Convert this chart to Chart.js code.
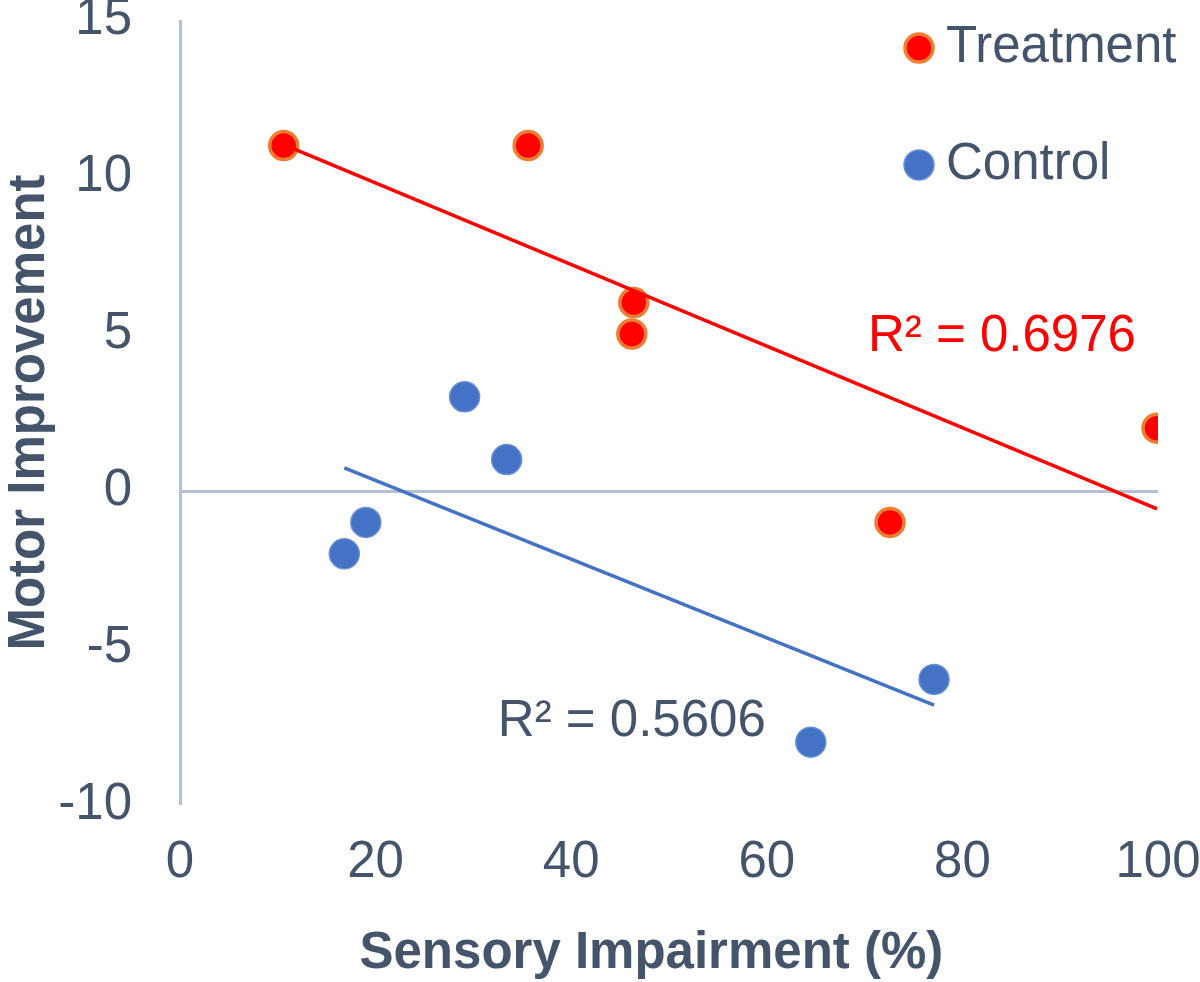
<!DOCTYPE html>
<html>
<head>
<meta charset="utf-8">
<script src="https://cdn.jsdelivr.net/npm/chart.js@4.4.1/dist/chart.umd.min.js"></script>
<style>
  html, body { margin: 0; padding: 0; background: #fff; }
  #wrap { width: 1200px; height: 982px; }
</style>
</head>
<body>
<div id="wrap"><canvas id="chartView" width="1200" height="982"></canvas></div>
<script>
// values
var treatmentX = [10.6, 35.6, 46.4, 46.2, 72.6, 99.9];
var treatmentY = [11, 11, 6, 5, -1, 2];
var controlX = [16.8, 19.0, 29.1, 33.4, 64.5, 77.1];
var controlY = [-2, -1, 3, 1, -8, -6];
var seriesNames = ['Treatment', 'Control'];
var r2Labels = ['R\u00b2 = 0.6976', 'R\u00b2 = 0.5606'];
var xTitle = 'Sensory Impairment (%)';
var yTitle = 'Motor Improvement';

var textColor = '#44546a';
var axisColor = '#b4c0d4';
var fontFamily = '"Liberation Sans", Arial, sans-serif';
var fontSize = 51;

function toPoints(xs, ys) {
    return xs.map(function (x, i) { return { x: x, y: ys[i] }; });
}

// least squares line over the range of the data, like the spreadsheet trendline
function trendLine(xs, ys) {
    var n = xs.length;
    var mx = xs.reduce(function (a, b) { return a + b; }, 0) / n;
    var my = ys.reduce(function (a, b) { return a + b; }, 0) / n;
    var sxy = 0, sxx = 0;
    for (var i = 0; i < n; i++) {
        sxy += (xs[i] - mx) * (ys[i] - my);
        sxx += (xs[i] - mx) * (xs[i] - mx);
    }
    var slope = sxy / sxx;
    var b = my - slope * mx;
    var lo = Math.min.apply(null, xs), hi = Math.max.apply(null, xs);
    return [{ x: lo, y: b + slope * lo }, { x: hi, y: b + slope * hi }];
}

var treatStyle = { fill: '#ff0000', stroke: '#ed7d31', radius: 14, width: 3.5 };
var ctrlStyle = { fill: '#4472c4', stroke: '#6a90d6', radius: 15, width: 1.5 };

// legend drawn inside the plot, top right
var sideLegend = {
    id: 'sideLegend',
    afterDraw: function (chart) {
        var ctx = chart.ctx, area = chart.chartArea;
        var mx = area.right - 239;
        var rows = [
            { y: area.top + 28, st: treatStyle, text: seriesNames[0] },
            { y: area.top + 145, st: ctrlStyle, text: seriesNames[1] }
        ];
        ctx.save();
        rows.forEach(function (r) {
            ctx.beginPath();
            ctx.arc(mx, r.y, r.st.radius, 0, Math.PI * 2);
            ctx.fillStyle = r.st.fill;
            ctx.fill();
            ctx.lineWidth = r.st.width;
            ctx.strokeStyle = r.st.stroke;
            ctx.stroke();
            ctx.fillStyle = textColor;
            ctx.font = fontSize + 'px ' + fontFamily;
            ctx.textAlign = 'left';
            ctx.textBaseline = 'middle';
            ctx.fillText(r.text, mx + 27, r.y);
        });
        ctx.restore();
    }
};

// R² labels placed in data coordinates, x axis title under the ticks
var chartText = {
    id: 'chartText',
    afterDatasetsDraw: function (chart, args, opts) {
        var ctx = chart.ctx;
        var xs = chart.scales.x, ys = chart.scales.y;
        ctx.save();
        ctx.font = fontSize + 'px ' + fontFamily;
        ctx.textAlign = 'left';
        ctx.textBaseline = 'middle';
        opts.items.forEach(function (it, i) {
            ctx.fillStyle = it.color;
            ctx.fillText(r2Labels[i], xs.getPixelForValue(it.x), ys.getPixelForValue(it.y));
        });
        ctx.font = 'bold ' + fontSize + 'px ' + fontFamily;
        ctx.textAlign = 'center';
        ctx.fillStyle = textColor;
        ctx.fillText(xTitle, xs.getPixelForValue(opts.titleAt), xs.bottom - opts.titleOffset);
        ctx.restore();
    }
};

function zeroLine(c) {
    return c.tick && c.tick.value === 0 ? axisColor : 'rgba(0,0,0,0)';
}

var ctx = document.getElementById('chartView').getContext('2d');
new Chart(ctx, {
    type: 'scatter',
    data: {
        datasets: [
            {
                label: seriesNames[0] + ' trend',
                data: trendLine(treatmentX, treatmentY),
                showLine: true,
                borderColor: '#ff0000',
                borderWidth: 3.5,
                pointRadius: 0,
                order: 1
            },
            {
                label: seriesNames[1] + ' trend',
                data: trendLine(controlX, controlY),
                showLine: true,
                borderColor: '#4472c4',
                borderWidth: 3.5,
                pointRadius: 0,
                order: 1
            },
            {
                label: seriesNames[0],
                data: toPoints(treatmentX, treatmentY),
                backgroundColor: treatStyle.fill,
                borderColor: treatStyle.stroke,
                borderWidth: treatStyle.width,
                pointRadius: treatStyle.radius,
                order: 2
            },
            {
                label: seriesNames[1],
                data: toPoints(controlX, controlY),
                backgroundColor: ctrlStyle.fill,
                borderColor: ctrlStyle.stroke,
                borderWidth: ctrlStyle.width,
                pointRadius: ctrlStyle.radius,
                order: 2
            }
        ]
    },
    options: {
        responsive: false,
        animation: false,
        events: [],
        layout: { padding: { top: 20, right: 42, bottom: 0, left: 0 } },
        scales: {
            x: {
                type: 'linear',
                min: 0,
                max: 100,
                ticks: {
                    stepSize: 20,
                    padding: 32,
                    color: textColor,
                    font: { family: fontFamily, size: fontSize, lineHeight: 1 }
                },
                grid: { color: zeroLine, lineWidth: 3, drawTicks: false },
                border: { display: false },
                afterFit: function (s) {
                    s.height = 177;
                    s.paddingLeft = 0;
                    s.paddingRight = 0;
                }
            },
            y: {
                type: 'linear',
                min: -10,
                max: 15,
                ticks: {
                    stepSize: 5,
                    padding: 48,
                    color: textColor,
                    font: { family: fontFamily, size: fontSize, lineHeight: 1 }
                },
                grid: { color: zeroLine, lineWidth: 3, drawTicks: false },
                border: { display: false },
                title: {
                    display: true,
                    text: yTitle,
                    color: textColor,
                    padding: { top: 4, bottom: 0 },
                    font: { family: fontFamily, size: fontSize, weight: 'bold', lineHeight: 1 }
                },
                afterFit: function (s) {
                    s.width = 180;
                    s.paddingTop = 0;
                    s.paddingBottom = 0;
                }
            }
        },
        plugins: {
            legend: { display: false },
            tooltip: { enabled: false },
            chartText: {
                titleAt: 48.2,
                titleOffset: 28,
                items: [
                    { x: 70.35, y: 4.9, color: '#ff0000' },
                    { x: 32.5, y: -7.36, color: textColor }
                ]
            }
        }
    },
    plugins: [chartText, sideLegend]
});
</script>
</body>
</html>
